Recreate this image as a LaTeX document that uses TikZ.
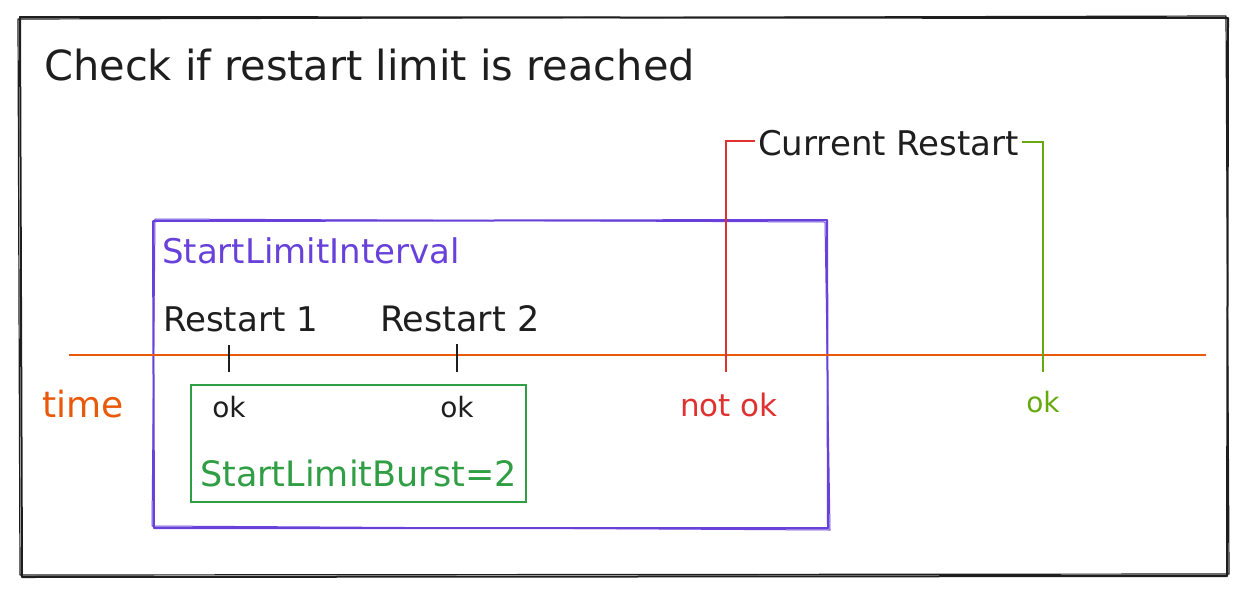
\documentclass[tikz,border=0pt]{standalone}
\usepackage{fontspec}
\setmainfont{DejaVu Sans}
\definecolor{ink}{HTML}{1E1E1E}
\definecolor{violet}{HTML}{6741D9}
\definecolor{orng}{HTML}{E8590C}
\definecolor{grn}{HTML}{2F9E44}
\definecolor{rd}{HTML}{E03131}
\definecolor{lime}{HTML}{66A80F}
\newcommand{\fs}[1]{\fontsize{#1}{#1}\selectfont}
\tikzset{
  lbl/.style={inner sep=0pt, anchor=base west, font=\fs{33}},
  okl/.style={inner sep=0pt, anchor=base, font=\fs{28}},
  tick/.style={ink, line width=1.8pt},
}
\begin{document}
\begin{tikzpicture}[x=1pt,y=-1pt]
\useasboundingbox (0,0) rectangle (1247,595);
% outer sketchy frame
\draw[ink, line width=2pt, line join=round] (20,17) -- (1228,18) -- (1227,576) -- (22,577) -- cycle;
\draw[ink, line width=1.2pt, line join=round] (18,19) -- (1226,16) -- (1229,574) -- (20,575) -- cycle;
% title
\node[lbl, ink, font=\fs{41.5}] (title) at (44,80) {Check if restart limit is reached};
% StartLimitInterval box
\draw[violet, line width=2pt, line join=round] (153,221) -- (827,220) -- (828,528) -- (154,528) -- cycle;
\draw[violet, line width=1pt, line join=round] (155,219) -- (825,222) -- (830,530) -- (152,526) -- cycle;
\node[lbl, violet, font=\fs{34}] (interval) at (162,263) {StartLimitInterval};
% time axis
\coordinate (axL) at (69,355);
\coordinate (axR) at (1206,355);
\draw[orng, line width=1.8pt] (axL) -- (axR);
\node[lbl, orng, font=\fs{36}] (time) at (42,417) {time};
% restarts
\node[lbl, ink, font=\fs{34}] (r1) at (163,331) {Restart 1};
\node[lbl, ink, font=\fs{35}] (r2) at (380,331) {Restart 2};
\coordinate (t1a) at (229,345); \coordinate (t1b) at (229,372);
\coordinate (t2a) at (457,344); \coordinate (t2b) at (457,372);
\draw[tick] (t1a) -- (t1b);
\draw[tick] (t2a) -- (t2b);
% burst box
\draw[grn, line width=1.8pt] (191,385) rectangle (526,502);
\node[okl, ink] (ok1) at (229,417) {ok};
\node[okl, ink] (ok2) at (457,417) {ok};
\node[lbl, grn, font=\fs{35}] (burst) at (200,486) {StartLimitBurst=2};
% current restart
\node[lbl, ink, font=\fs{34}] (current) at (758,155) {Current Restart};
\coordinate (redbot) at (726,372);
\coordinate (grnbot) at (1043,372);
\draw[rd, line width=1.8pt] (redbot) |- ([xshift=-3pt,yshift=2pt]current.west);
\draw[lime, line width=1.8pt] ([xshift=3pt,yshift=1pt]current.east) -| (grnbot);
\node[okl, rd, font=\fs{31}] (notok) at (729,416) {not ok};
\node[okl, lime] (ok3) at (1043,412) {ok};
\end{tikzpicture}
\end{document}
